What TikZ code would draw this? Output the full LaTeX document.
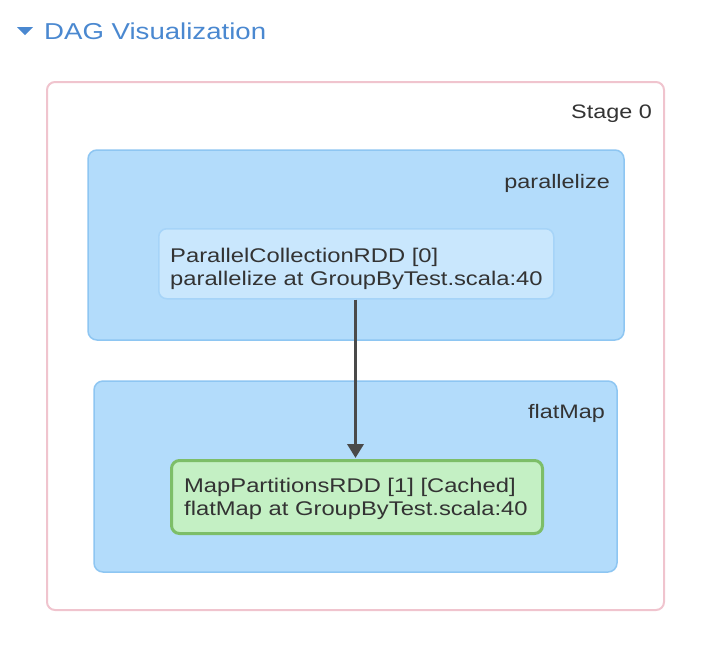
\documentclass[tikz,border=0pt]{standalone}
\usepackage{fontspec}
\setmainfont{Liberation Sans}[FakeStretch=1.2]
\usetikzlibrary{arrows.meta}
\definecolor{hdr}{HTML}{4A88D0}
\definecolor{stagec}{HTML}{F0C4CE}
\definecolor{clusterfill}{HTML}{B3DCFB}
\definecolor{clusterline}{HTML}{8EC6F2}
\definecolor{nodefill}{HTML}{C9E7FD}
\definecolor{nodeline}{HTML}{A6D4F8}
\definecolor{cachedfill}{HTML}{C4F0C4}
\definecolor{cachedline}{HTML}{7DBE68}
\definecolor{txt}{HTML}{333333}
\definecolor{edgec}{HTML}{4A4A4A}
\tikzset{
  stagebox/.style={draw=stagec, line width=2pt, rounded corners=8pt, fill=white},
  clusterbox/.style={draw=clusterline, line width=1.5pt, rounded corners=9pt, fill=clusterfill},
  rddbox/.style={draw=nodeline, line width=1.5pt, rounded corners=8pt, fill=nodefill},
  cachedbox/.style={draw=cachedline, line width=3pt, rounded corners=8pt, fill=cachedfill},
  lbl/.style={text=txt, font=\fontsize{19.5}{22}\selectfont, inner sep=0pt, anchor=base east},
  rddtxt/.style={text=txt, font=\fontsize{19.8}{23}\selectfont, inner sep=0pt, anchor=base west},
  edge/.style={draw=edgec, line width=3.5pt, -{Triangle[length=14pt,width=16pt]}}
}
\begin{document}
\begin{tikzpicture}[x=1pt,y=-1pt]
\useasboundingbox (0,0) rectangle (708,646);
% header
\fill[hdr] (17,27) -- (33,27) -- (25,35) -- cycle;
\node[anchor=base west, text=hdr, font=\fontsize{23}{28}\selectfont, inner sep=0pt] (title) at (44,39) {DAG Visualization};
% stage
\draw[stagebox] (47,82) rectangle (664,610);
\node[lbl] (stage) at (652,118) {Stage 0};
% clusters
\draw[clusterbox] (88,150) rectangle (624,340);
\node[lbl] (cl1) at (610,188) {parallelize};
\draw[clusterbox] (94,381) rectangle (617,572);
\node[lbl] (cl2) at (605,418) {flatMap};
% rdd nodes
\node[rddbox, minimum width=395pt, minimum height=70pt, anchor=north west] (n0) at (158,228) {};
\node[rddtxt] (n0a) at (170,262) {ParallelCollectionRDD [0]};
\node[rddtxt] (n0b) at (170,285) {parallelize at GroupByTest.scala:40};
\node[cachedbox, minimum width=371pt, minimum height=73pt, anchor=north west] (n1) at (170,459) {};
\node[rddtxt] (n1a) at (184,492) {MapPartitionsRDD [1] [Cached]};
\node[rddtxt] (n1b) at (184,515) {flatMap at GroupByTest.scala:40};
% edge
\draw[edge] (n0.south -| 355.5,0) -- ([yshift=1pt]n1.north -| 355.5,0);
\end{tikzpicture}
\end{document}
